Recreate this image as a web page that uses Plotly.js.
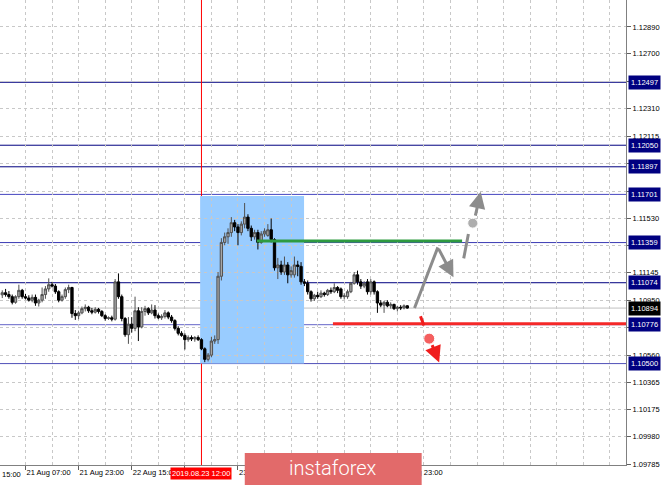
<!DOCTYPE html>
<html><head><meta charset="utf-8">
<script src="https://cdn.plot.ly/plotly-3.0.1.min.js"></script>
<style>html,body{margin:0;padding:0;background:#fff;overflow:hidden;}</style>
</head><body><div id="chart" style="width:665px;height:485px;"></div>
<script>
// Hourly EURUSD bars, first bar is 21 Aug 00:00 (index -7); index 0 = 21 Aug 07:00
const FIRST_BAR = -7;
const openP = [1.10988,1.11003,1.10990,1.10975,1.10935,1.10975,1.11020,
1.10975,1.10965,1.10950,1.10970,1.10930,1.10950,1.10990,1.11030,1.11060,1.11050,1.11010,1.10950,1.10975,1.11025,1.11040,1.10855,
1.10840,1.10860,1.10890,1.10900,1.10875,1.10865,1.10885,1.10870,1.10840,1.10820,1.10825,1.10815,1.11080,1.10975,1.10820,1.10705,
1.10780,1.10750,1.10875,1.10760,1.10870,1.10890,1.10860,1.10880,1.10840,1.10825,1.10835,1.10860,1.10830,1.10805,1.10750,1.10715,
1.10700,1.10670,1.10685,1.10675,1.10685,1.10670,1.10605,1.10530,1.10560,1.10660,1.10670,1.11120,1.11360,1.11400,1.11430,1.11500,
1.11470,1.11430,1.11490,1.11540,1.11460,1.11400,1.11430,1.11360,1.11420,1.11410,1.11450,1.11380,1.11180,1.11200,1.11150,1.11200,
1.11130,1.11130,1.11200,1.11190,1.11080,1.11070,1.11010,1.10960,1.10985,1.10975,1.11000,1.10990,1.11020,1.11010,1.11040,1.11030,
1.10975,1.10975,1.11010,1.11070,1.11130,1.11080,1.11050,1.11080,1.11010,1.11080,1.11010,1.10930,1.10915,1.10935,1.10910,1.10920,
1.10890,1.10900,1.10895,1.10910];
const highP = [1.11020,1.11030,1.11015,1.10990,1.10985,1.11060,1.11030,
1.10995,1.10985,1.10990,1.10990,1.10960,1.11040,1.11050,1.11105,1.11080,1.11065,1.11020,1.10990,1.11040,1.11060,1.11045,1.10880,
1.10875,1.10905,1.10920,1.10910,1.10895,1.10900,1.10895,1.10880,1.10850,1.10835,1.10840,1.11100,1.11140,1.10990,1.10830,1.10830,
1.10830,1.10975,1.10900,1.10900,1.10910,1.10900,1.10920,1.10915,1.10855,1.10850,1.10880,1.10870,1.10845,1.10815,1.10765,1.10730,
1.10715,1.10700,1.10700,1.10695,1.10700,1.10680,1.10615,1.10575,1.10690,1.10700,1.11150,1.11390,1.11430,1.11460,1.11540,1.11520,
1.11490,1.11510,1.11640,1.11560,1.11480,1.11450,1.11450,1.11440,1.11460,1.11490,1.11530,1.11390,1.11250,1.11230,1.11260,1.11220,
1.11190,1.11260,1.11230,1.11220,1.11100,1.11090,1.11020,1.10995,1.11010,1.11020,1.11010,1.11030,1.11040,1.11070,1.11050,1.11040,
1.11000,1.11025,1.11080,1.11150,1.11160,1.11100,1.11085,1.11100,1.11100,1.11090,1.11020,1.10950,1.10945,1.10950,1.10935,1.10925,
1.10910,1.10915,1.10920,1.10915];
const lowP = [1.10965,1.10975,1.10960,1.10920,1.10925,1.10960,1.10960,
1.10955,1.10940,1.10935,1.10910,1.10905,1.10935,1.10960,1.11010,1.11040,1.10995,1.10935,1.10940,1.10960,1.11000,1.10825,1.10810,
1.10815,1.10850,1.10870,1.10860,1.10850,1.10855,1.10855,1.10830,1.10805,1.10810,1.10800,1.10805,1.10960,1.10800,1.10690,1.10640,
1.10720,1.10730,1.10660,1.10750,1.10840,1.10845,1.10850,1.10820,1.10815,1.10810,1.10820,1.10815,1.10790,1.10735,1.10700,1.10690,
1.10600,1.10655,1.10660,1.10655,1.10660,1.10595,1.10510,1.10515,1.10545,1.10640,1.10640,1.11090,1.11340,1.11350,1.11400,1.11440,
1.11340,1.11410,1.11460,1.11440,1.11370,1.11380,1.11310,1.11350,1.11400,1.11400,1.11360,1.11160,1.11100,1.11130,1.11130,1.11070,
1.11110,1.11110,1.11120,1.11060,1.11050,1.10990,1.10940,1.10945,1.10960,1.10965,1.10975,1.10980,1.10995,1.11000,1.11000,1.10960,
1.10955,1.10960,1.11000,1.11060,1.11060,1.11030,1.11035,1.10990,1.10990,1.10990,1.10860,1.10900,1.10860,1.10900,1.10890,1.10880,
1.10870,1.10880,1.10885,1.10890];
const closeP = [1.11003,1.10990,1.10975,1.10935,1.10975,1.11020,1.10975,
1.10965,1.10950,1.10970,1.10930,1.10950,1.10990,1.11030,1.11060,1.11050,1.11010,1.10950,1.10975,1.11025,1.11040,1.10855,1.10840,
1.10860,1.10890,1.10900,1.10875,1.10865,1.10885,1.10870,1.10840,1.10820,1.10825,1.10815,1.11080,1.10975,1.10820,1.10705,1.10780,
1.10750,1.10875,1.10760,1.10870,1.10890,1.10860,1.10880,1.10840,1.10825,1.10835,1.10860,1.10830,1.10805,1.10750,1.10715,1.10700,
1.10670,1.10685,1.10675,1.10685,1.10670,1.10605,1.10530,1.10560,1.10660,1.10670,1.11120,1.11360,1.11400,1.11430,1.11500,1.11470,
1.11430,1.11490,1.11540,1.11460,1.11400,1.11430,1.11360,1.11420,1.11440,1.11450,1.11380,1.11180,1.11200,1.11150,1.11200,1.11130,
1.11160,1.11200,1.11190,1.11080,1.11070,1.11010,1.10960,1.10985,1.10975,1.11000,1.10990,1.11020,1.11010,1.11040,1.11020,1.10975,
1.10980,1.11010,1.11070,1.11130,1.11080,1.11050,1.11070,1.11010,1.11080,1.11010,1.10930,1.10915,1.10935,1.10910,1.10920,1.10890,
1.10900,1.10895,1.10910,1.10894];

const xTickBars = [0, 16, 32, 48, 64, 80, 96, 112];
const xTickLabels = ['21 Aug 07:00','21 Aug 23:00','22 Aug 15:00','23 Aug 07:00','23 Aug 23:00','26 Aug 15:00','27 Aug 07:00','27 Aug 23:00'];
const yTicks = [1.12890,1.12700,1.12505,1.12310,1.12115,1.11920,1.11725,1.11530,1.11340,1.11145,1.10950,1.10755,1.10560,1.10365,1.10175,1.09980,1.09785];

const levels = [1.12497, 1.12050, 1.11897, 1.11701, 1.11359, 1.11074, 1.10776, 1.10500];
const levelColors = ['#000080','#000080','#000080','#4646c0','#3a3ab4','#000080','#6464c8','#5050b8'];
const bidPrice = 1.10894;

const rectBars = [52.6, 83.9];
const rectPrices = [1.10500, 1.11690];
const markerBar = 53;
const markerLabel = '2019.08.23 12:00';
const greenBars = [69.7, 131.5]; const greenPrice = 1.11370;
const redBars = [92.6, 182]; const redPrice = 1.10783;

// scenario drawings: [tailBar, tailPrice, headBar, headPrice, arrowhead]
const grayPath = [
  [117.0, 1.10884, 124.2, 1.11325, 0],
  [124.2, 1.11325, 128.9, 1.11113, 2],
  [131.9, 1.11236, 133.4, 1.11420, 0],
  [135.4, 1.11540, 137.1, 1.11719, 2]
];
const redPath = [
  [118.8, 1.10847, 120.0, 1.10771, 0],
  [122.3, 1.10642, 124.6, 1.10507, 2]
];
const dotBars = [134.7, 121.6];
const dotPrices = [1.11497, 1.10677];
const dotColors = ['#8c8c8c', '#f01c1c'];

const x = openP.map((_, i) => FIRST_BAR + i);
const fnt = 'Liberation Sans, Arial, sans-serif';

const traces = [{
  type: 'candlestick', x: x, open: openP, high: highP, low: lowP, close: closeP,
  increasing: {line: {color: '#505050', width: 1}, fillcolor: '#a6a6a6'},
  decreasing: {line: {color: '#000000', width: 1}, fillcolor: '#000000'},
  whiskerwidth: 0, hoverinfo: 'skip', showlegend: false
}, {
  type: 'scatter', mode: 'markers', x: dotBars, y: dotPrices,
  marker: {color: dotColors, size: [10, 11]}, hoverinfo: 'skip', showlegend: false
}];

const shapes = [{
  type: 'rect', layer: 'below', xref: 'x', yref: 'y', x0: rectBars[0], x1: rectBars[1],
  y0: rectPrices[0], y1: rectPrices[1], fillcolor: '#99ccff', line: {width: 0}
}];
levels.forEach((v, i) => shapes.push({type: 'line', layer: 'below', xref: 'paper', yref: 'y', x0: 0, x1: 1, y0: v, y1: v, line: {color: levelColors[i], width: 1}}));
shapes.push({type: 'line', layer: 'below', xref: 'paper', yref: 'y', x0: 0, x1: 1, y0: bidPrice, y1: bidPrice, line: {color: '#c0c0c0', width: 1}});
shapes.push({type: 'line', layer: 'below', xref: 'x', yref: 'paper', x0: markerBar, x1: markerBar, y0: 0, y1: 1, line: {color: '#ff0000', width: 1}});
shapes.push({type: 'line', layer: 'above', xref: 'x', yref: 'y', x0: greenBars[0], x1: greenBars[1], y0: greenPrice, y1: greenPrice, line: {color: '#2e9b40', width: 3}});
shapes.push({type: 'line', layer: 'above', xref: 'x', yref: 'y', x0: redBars[0], x1: redBars[1], y0: redPrice, y1: redPrice, line: {color: '#f52828', width: 3}});
shapes.push({type: 'rect', layer: 'above', xref: 'paper', yref: 'paper', x0: 0.391, x1: 0.6736, y0: 0.0258, y1: -0.05, fillcolor: '#e26a6a', line: {width: 0}});

const annotations = [];
levels.forEach(v => annotations.push({
  xref: 'paper', yref: 'y', x: 1, y: v, xanchor: 'left', yanchor: 'middle', xshift: 2,
  text: v.toFixed(5), showarrow: false, bgcolor: '#000080', borderpad: 2,
  font: {family: fnt, size: 7.5, color: '#ffffff'}
}));
annotations.push({
  xref: 'paper', yref: 'y', x: 1, y: bidPrice, xanchor: 'left', yanchor: 'middle', xshift: 2,
  text: bidPrice.toFixed(5), showarrow: false, bgcolor: '#000000', borderpad: 2,
  font: {family: fnt, size: 7.5, color: '#ffffff'}
});
annotations.push({
  xref: 'x', yref: 'paper', x: markerBar, y: 0, xanchor: 'center', yanchor: 'top', yshift: -2,
  text: markerLabel, showarrow: false, bgcolor: '#ff0000', borderpad: 1,
  font: {family: fnt, size: 7.5, color: '#ffffff'}
});
annotations.push({
  xref: 'paper', yref: 'paper', x: 0, y: 0, xanchor: 'left', yanchor: 'top', yshift: -3,
  text: '15:00', showarrow: false, font: {family: fnt, size: 7.5, color: '#000000'}
});
annotations.push({
  xref: 'paper', yref: 'paper', x: 0.5315, y: -0.006, xanchor: 'center', yanchor: 'middle',
  text: 'instaforex', showarrow: false, font: {family: 'Roboto, sans-serif', size: 20, color: '#ffffff', weight: 300}
});
function addPath(path, color) {
  path.forEach(p => annotations.push({
    xref: 'x', yref: 'y', axref: 'x', ayref: 'y', ax: p[0], ay: p[1], x: p[2], y: p[3],
    text: '', showarrow: true, arrowhead: p[4], arrowsize: 1.1, arrowwidth: 3, arrowcolor: color, standoff: 0
  }));
}
addPath(grayPath, '#8c8c8c');
addPath(redPath, '#f01c1c');

const layout = {
  width: 665, height: 485,
  margin: {l: 0, r: 39, t: 0, b: 20},
  paper_bgcolor: '#ffffff', plot_bgcolor: '#ffffff',
  showlegend: false, hovermode: false,
  boxgap: 0, boxgroupgap: 0.3,
  font: {family: fnt, size: 7.5, color: '#000000'},
  xaxis: {
    range: [-7.68, 180.87], rangeslider: {visible: false},
    tickmode: 'array', tickvals: xTickBars, ticktext: xTickLabels, tickangle: 0,
    ticklabelposition: 'outside right', ticks: 'outside', ticklen: 4, tickcolor: '#606060',
    tickfont: {family: fnt, size: 7.5, color: '#000000'},
    showgrid: true, gridcolor: '#c8c8c8', griddash: '3px,3px', gridwidth: 1,
    minor: {tickmode: 'linear', tick0: 0, dtick: 8, showgrid: true, gridcolor: '#c8c8c8', griddash: '3px,3px', gridwidth: 1},
    showline: true, linecolor: '#808080', linewidth: 1, mirror: true,
    zeroline: false, fixedrange: true
  },
  yaxis: {
    side: 'right', range: [1.09780, 1.13081],
    tickmode: 'array', tickvals: yTicks, ticktext: yTicks.map(v => v.toFixed(5)),
    ticks: 'outside', ticklen: 4, tickcolor: '#606060',
    tickfont: {family: fnt, size: 7.5, color: '#000000'},
    showgrid: true, gridcolor: '#c8c8c8', griddash: '3px,3px', gridwidth: 1,
    showline: true, linecolor: '#808080', linewidth: 1,
    zeroline: false, fixedrange: true
  },
  shapes: shapes, annotations: annotations
};
Plotly.newPlot('chart', traces, layout, {staticPlot: true, displayModeBar: false});
</script></body></html>
